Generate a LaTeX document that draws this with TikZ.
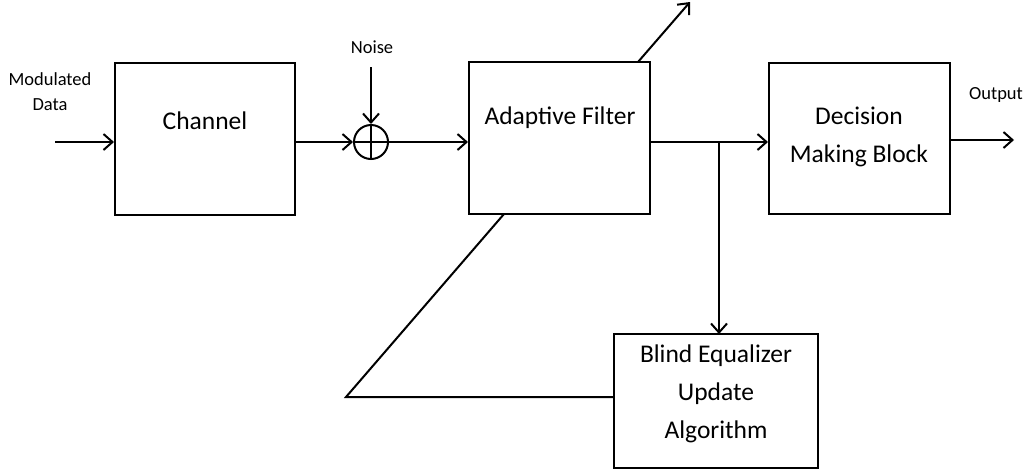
\documentclass[tikz,border=0pt]{standalone}
\usepackage{fontspec}
\setmainfont{Carlito}
\usetikzlibrary{arrows.meta,calc}
\begin{document}
\begin{tikzpicture}[x=1pt,y=-1pt,
  blk/.style={draw,line width=2pt,minimum width=#1,inner sep=0pt},
  big/.style={font=\fontsize{25.5}{38}\selectfont,align=center,inner sep=0pt},
  small/.style={font=\fontsize{18.5}{25}\selectfont,align=center,inner sep=0pt},
  conn/.style={line width=2pt},
  arr/.style={conn,-{Straight Barb[length=9pt,width=16pt,line width=2pt]}}]
\path[use as bounding box] (0,0) rectangle (1030,475);
% blocks
\node[blk=180pt,minimum height=152pt] (ch) at (205,139) {};
\node[blk=181pt,minimum height=152pt] (af) at (559.5,138) {};
\node[blk=181pt,minimum height=151pt] (dm) at (859.5,138.5) {};
\node[blk=204pt,minimum height=134pt] (be) at (716,401) {};
\node[draw,circle,line width=2pt,minimum size=34pt,inner sep=0pt] (sum) at (371,142) {};
\draw[conn] (sum.north) -- (sum.south) (sum.west) -- (sum.east);
% texts
\node[big] (tch) at (205,121) {Channel};
\node[big] (taf) at (560,118) {Adaptive Filter};
\node[big] (tdm) at (859,137) {Decision\\Making Block};
\node[big,font=\fontsize{25.5}{38}\selectfont] (tbe) at (716,394) {Blind Equalizer\\Update\\Algorithm};
\node[small] (tin) at (50,91.5) {Modulated\\Data};
\node[small] (tno) at (372,47) {Noise};
\node[small] (tout) at (996,95) {Output};
% coordinates
\coordinate (in) at (55,142);
\coordinate (out) at (1014,140);
\coordinate (noisetop) at (371,67);
\coordinate (br) at (719,142);
\coordinate (betop) at (719,334);
\coordinate (bel) at (614,397);
\coordinate (corner) at (346,397);
\coordinate (afb) at (504,214);
\coordinate (ast) at (638,62);
\coordinate (aend) at (690,2);
% connectors
\draw[arr] (in) -- (in -| ch.west);
\draw[arr] (ch.east |- sum) -- (sum.west);
\draw[arr] (noisetop) -- (sum.north);
\draw[arr] (sum.east) -- (sum -| af.west);
\draw[arr] (af.east |- br) -- (br -| dm.west);
\draw[arr] (br) -- (betop);
\draw[arr] (dm.east |- out) -- (out);
\draw[conn,line join=miter] (bel) -- (corner) -- (afb);
\draw[arr] (ast) -- (aend);
\end{tikzpicture}
\end{document}
